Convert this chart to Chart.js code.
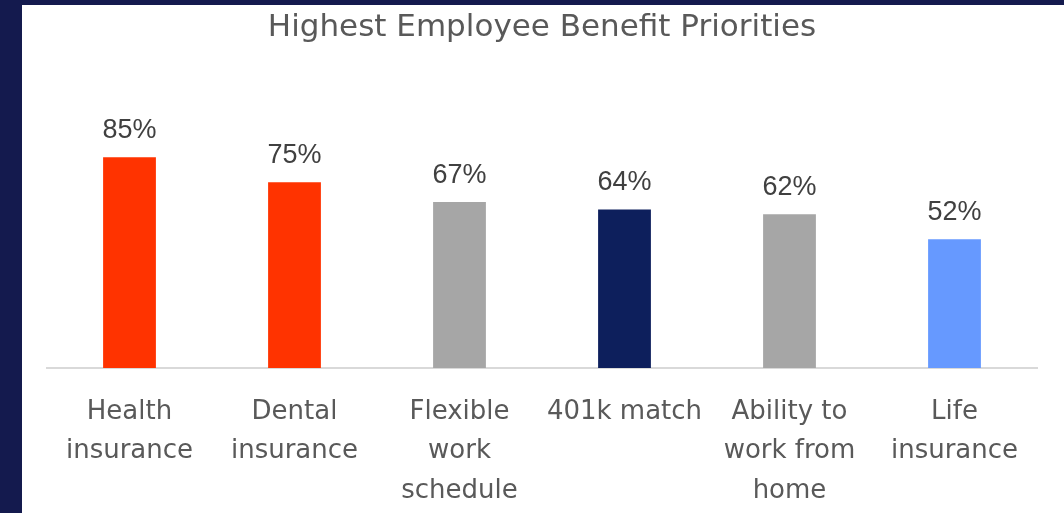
<!DOCTYPE html>
<html>
<head>
<meta charset="utf-8">
<script src="https://cdn.jsdelivr.net/npm/chart.js@4.4.1/dist/chart.umd.min.js"></script>
<style>
  html, body { margin: 0; padding: 0; background: #141a4e; width: 1064px; height: 513px; overflow: hidden; }
  .panel { position: absolute; left: 22px; top: 5px; width: 1042px; height: 508px; background: #fff; }
</style>
</head>
<body>
<div class="panel"><canvas id="chart" width="1042" height="508"></canvas></div>
<script>
// dados
const categories = [
  ['Health', 'insurance'],
  ['Dental', 'insurance'],
  ['Flexible', 'work', 'schedule'],
  ['401k match'],
  ['Ability to', 'work from', 'home'],
  ['Life', 'insurance']
];
const percentValues = [85, 75, 67, 64, 62, 52];
const barColors = ['#ff3300', '#ff3300', '#a6a6a6', '#0d1f5c', '#a6a6a6', '#6699ff'];

// rótulo em cima de cada barra
const valueLabels = {
  id: 'valueLabels',
  afterDatasetsDraw(chart) {
    const ctx = chart.ctx;
    const meta = chart.getDatasetMeta(0);
    ctx.save();
    ctx.font = '27px "Liberation Sans", Arial, sans-serif';
    ctx.fillStyle = '#404040';
    ctx.textAlign = 'center';
    ctx.textBaseline = 'alphabetic';
    meta.data.forEach((bar, i) => {
      ctx.fillText(percentValues[i] + '%', bar.x, bar.y - 19);
    });
    ctx.restore();
  }
};

new Chart(document.getElementById('chart'), {
  type: 'bar',
  data: {
    labels: categories,
    datasets: [{
      data: percentValues,
      backgroundColor: barColors,
      borderWidth: 0,
      barPercentage: 0.32,
      categoryPercentage: 1
    }]
  },
  options: {
    responsive: false,
    animation: false,
    layout: { padding: { left: 25, right: 27, top: 0, bottom: 0 } },
    plugins: {
      legend: { display: false },
      tooltip: { enabled: false },
      title: {
        display: true,
        text: 'Highest Employee Benefit Priorities',
        color: '#595959',
        font: { family: '"DejaVu Sans", sans-serif', size: 31, weight: 'normal', lineHeight: 1.2 },
        padding: { top: 4, bottom: 74 }
      }
    },
    scales: {
      y: { display: false, min: 0, max: 100 },
      x: {
        afterFit(scale) { scale.height = 145; },
        grid: { display: false, drawTicks: false },
        border: { display: true, color: '#d9d9d9', width: 2 },
        ticks: {
          color: '#595959',
          padding: 24,
          maxRotation: 0,
          autoSkip: false,
          font: { family: '"DejaVu Sans", sans-serif', size: 26, lineHeight: 1.52 }
        }
      }
    }
  },
  plugins: [valueLabels]
});
</script>
</body>
</html>
